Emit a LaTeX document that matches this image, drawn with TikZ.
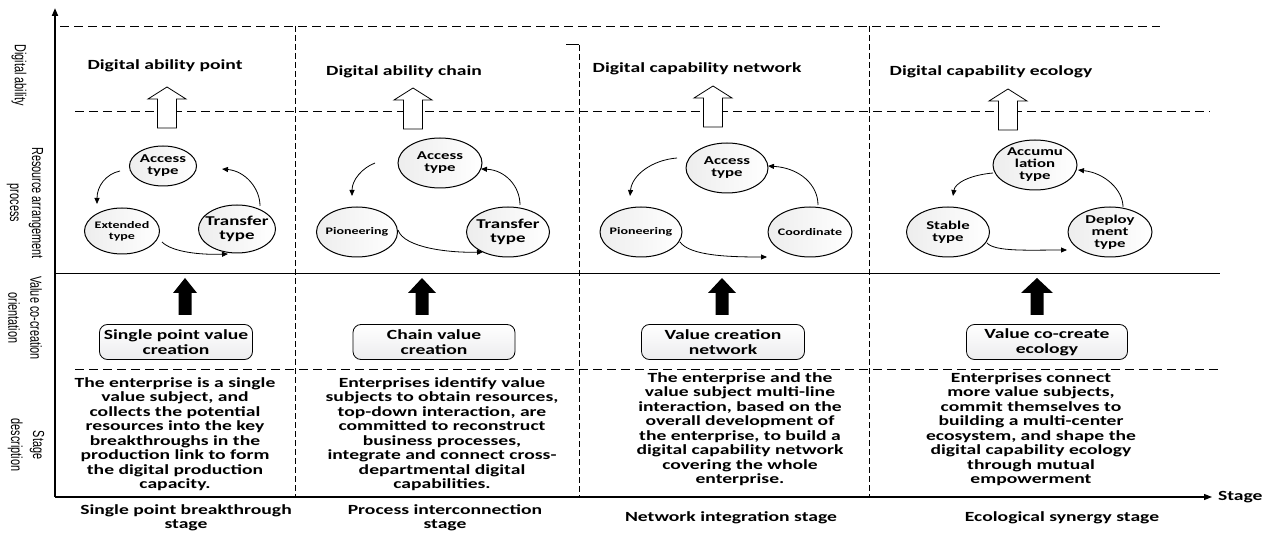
\documentclass[tikz,border=0pt]{standalone}
\usepackage{fontspec}
\setmainfont{Carlito}[FakeStretch=1.4]
\newfontfamily\sidefont{Liberation Sans}[FakeStretch=0.68]
\usetikzlibrary{arrows.meta,shapes.geometric,calc}
\newcommand\hollowarrow[2]{\draw[line width=0.8pt,fill=white] (#1-9.5,#2+41) -- (#1-9.5,#2+12) -- (#1-19,#2+12) -- (#1,#2) -- (#1+19,#2+12) -- (#1+9.5,#2+12) -- (#1+9.5,#2+41) -- cycle;}
\newcommand\blackarrow[2]{\fill[black] (#1-6.5,315) -- (#1-6.5,293) -- (#1-#2,293) -- (#1,278) -- (#1+#2,293) -- (#1+6.5,293) -- (#1+6.5,315) -- cycle;}
\begin{document}
\begin{tikzpicture}[x=1pt,y=-1pt,
  every node/.style={inner sep=0pt,outer sep=0pt},
  hdr/.style={font=\bfseries\fontsize{14}{15}\selectfont},
  desc/.style={font=\bfseries\fontsize{14}{14.5}\selectfont, align=center},
  stg/.style={font=\bfseries\fontsize{14}{13.5}\selectfont, align=center},
  side/.style={font=\sidefont\fontsize{16}{22}\selectfont, align=center, rotate=-90},
  circ/.style={draw, ellipse, line width=1pt, left color=gray!14, right color=white},
  lbl/.style={font=\bfseries\fontsize{12}{12}\selectfont, align=center},
  lbls/.style={font=\bfseries\fontsize{10}{11}\selectfont, align=center},
  lblb/.style={font=\bfseries\fontsize{13.5}{13.5}\selectfont, align=center},
  vbox/.style={draw, rounded corners=8pt, line width=0.8pt, top color=white, bottom color=blue!6!gray!14,
    minimum height=35pt, align=center, font=\bfseries\fontsize{14}{15}\selectfont},
  dash1/.style={dash pattern=on 9pt off 5pt, line width=0.7pt},
  dash2/.style={dash pattern=on 6pt off 3pt, line width=1pt},
  arr/.style={line width=0.8pt, -{Triangle[length=6pt,width=5pt]}},
  axis/.style={-{Triangle[length=8pt,width=6pt]}}]
\useasboundingbox (0,0) rectangle (1271,534);

% axes
\coordinate (O) at (55,497);
\coordinate (ytop) at (55,8);
\coordinate (xend) at (1212,497);
\draw[axis, line width=1.8pt] (O) -- (ytop);
\draw[axis, line width=1.2pt] (O) -- (xend);
\node[hdr, anchor=west] (stagelbl) at (1218,497) {Stage};

% grid lines
\draw[dash1] (60,26) -- (1160,26);
\draw[dash1] (75,111) -- (1210,111);
\draw[line width=0.8pt] (55,273) -- (1220,273);
\draw[dash1] (75,369) -- (1220,369);
\draw[dash2] (295,26) -- (295,497);
\draw[dash2] (579,45) -- (579,497);
\draw[line width=1pt] (566,45) -- (579,45);
\draw[dash2] (869,26) -- (869,497);

% side labels
\node[side] (sl1) at (19,75) {Digital ability};
\node[side] (sl2) at (25,203) {Resource arrangement\\process};
\node[side] (sl3) at (25,318) {Value co-creation\\orientation};
\node[side] (sl4) at (26,445) {Stage\\description};

% headers
\node[hdr] (h1) at (165,66) {Digital ability point};
\node[hdr] (h2) at (404,72) {Digital ability chain};
\node[hdr] (h3) at (697,69) {Digital capability network};
\node[hdr] (h4) at (991,72) {Digital capability ecology};

\hollowarrow{167}{87}
\hollowarrow{413}{88}
\hollowarrow{713}{86}
\hollowarrow{1008}{89}

% column 1 cycle
\node[circ, minimum width=67pt, minimum height=40pt, label={[lbl]center:Access\\type}] (a1) at (163,166) {};
\node[circ, minimum width=75pt, minimum height=46pt, label={[lbls]center:Extended\\type}] (e1) at (122,231) {};
\node[circ, minimum width=77pt, minimum height=48pt, label={[lblb]center:Transfer\\type}] (t1) at (237,229) {};
\coordinate (a1o) at (120,171); \coordinate (e1i) at (97,204);
\coordinate (e1o) at (162,242); \coordinate (t1i) at (228,254);
\coordinate (t1o) at (260,206); \coordinate (a1i) at (222,169);
\draw[arr] (a1o) .. controls (106,174) and (97,186) .. (e1i);
\draw[arr] (e1o) .. controls (172,252) and (200,255) .. (t1i);
\draw[arr] (t1o) .. controls (260,188) and (245,171) .. (a1i);

% column 2 cycle
\node[circ, minimum width=84pt, minimum height=50pt, label={[lbl]center:Access\\type}] (a2) at (440,163) {};
\node[circ, minimum width=81pt, minimum height=50pt, label={[lbls]center:Pioneering}] (p2) at (357,232) {};
\node[circ, minimum width=83pt, minimum height=50pt, label={[lblb]center:Transfer\\type}] (t2) at (508,232) {};
\coordinate (a2o) at (375,163); \coordinate (p2i) at (352,196);
\coordinate (p2o) at (398,230); \coordinate (t2i) at (483,252);
\coordinate (t2o) at (520,205); \coordinate (a2i) at (481,169);
\draw[arr] (a2o) .. controls (362,168) and (352,180) .. (p2i);
\draw[arr] (p2o) .. controls (404,248) and (450,253) .. (t2i);
\draw[arr] (t2o) .. controls (520,186) and (505,170) .. (a2i);

% column 3 cycle
\node[circ, minimum width=82pt, minimum height=50pt, label={[lbl]center:Access\\type}] (a3) at (727,168) {};
\node[circ, minimum width=82pt, minimum height=50pt, label={[lbls]center:Pioneering}] (p3) at (641,232) {};
\node[circ, minimum width=84pt, minimum height=50pt, label={[lbls]center:Coordinate}] (c3) at (810,232) {};
\coordinate (a3o) at (677,158); \coordinate (p3i) at (630,196);
\coordinate (p3o) at (680,242); \coordinate (c3i) at (767,257);
\coordinate (c3o) at (818,205); \coordinate (a3i) at (768,166);
\draw[arr] (a3o) .. controls (652,160) and (632,175) .. (p3i);
\draw[arr] (p3o) .. controls (690,256) and (730,257) .. (c3i);
\draw[arr] (c3o) .. controls (818,185) and (800,168) .. (a3i);

% column 4 cycle
\node[circ, minimum width=84pt, minimum height=50pt, label={[lbl]center:Accumu\\lation\\type}] (a4) at (1035,165) {};
\node[circ, minimum width=83pt, minimum height=50pt, label={[lbl]center:Stable\\type}] (s4) at (948,232) {};
\node[circ, minimum width=84pt, minimum height=50pt, label={[lbl]center:Deploy\\ment\\type}] (d4) at (1110,232) {};
\coordinate (a4o) at (993,173); \coordinate (s4i) at (953,196);
\coordinate (s4o) at (987,243); \coordinate (d4i) at (1067,250);
\coordinate (d4o) at (1123,207); \coordinate (a4i) at (1078,170);
\draw[arr] (a4o) .. controls (970,175) and (955,183) .. (s4i);
\draw[arr] (s4o) .. controls (995,252) and (1030,250) .. (d4i);
\draw[arr] (d4o) .. controls (1123,190) and (1105,173) .. (a4i);

% value co-creation row
\blackarrow{185}{12}
\blackarrow{422}{14}
\blackarrow{722}{14}
\blackarrow{1037}{16}
\node[vbox, minimum width=153pt] (v1) at (176,342) {Single point value\\creation};
\node[vbox, minimum width=162pt] (v2) at (434,342) {Chain value\\creation};
\node[vbox, minimum width=163pt] (v3) at (723,342) {Value creation\\network};
\node[vbox, minimum width=161pt] (v4) at (1047,342) {Value co-create\\ecology};

% descriptions
\node[desc] (d1) at (175,434) {The enterprise is a single\\value subject, and\\collects the potential\\resources into the key\\breakthroughs in the\\production link to form\\the digital production\\capacity.};
\node[desc] (d2) at (442,434) {Enterprises identify value\\subjects to obtain resources,\\top-down interaction, are\\committed to reconstruct\\business processes,\\integrate and connect cross-\\departmental digital\\capabilities.};
\node[desc] (d3) at (740,429) {The enterprise and the\\value subject multi-line\\interaction, based on the\\overall development of\\the enterprise, to build a\\digital capability network\\covering the whole\\enterprise.};
\node[desc] (d4t) at (1031,429) {Enterprises connect\\more value subjects,\\commit themselves to\\building a multi-center\\ecosystem, and shape the\\digital capability ecology\\through mutual\\empowerment};

% stage names
\node[stg] (s1) at (186,518) {Single point breakthrough\\stage};
\node[stg] (s2) at (445,518) {Process interconnection\\stage};
\node[stg] (s3) at (731,518) {Network integration stage};
\node[stg] (s4t) at (1062,518) {Ecological synergy stage};
\end{tikzpicture}
\end{document}
